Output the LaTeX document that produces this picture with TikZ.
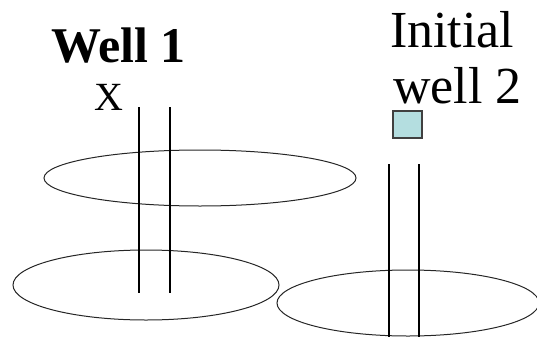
\documentclass[tikz,border=0pt]{standalone}
\usepackage{fontspec}
\setmainfont{Liberation Serif}
\definecolor{sqfill}{RGB}{180,222,224}
\begin{document}
\begin{tikzpicture}[x=1pt,y=-1pt,
  line/.style={line width=1.1pt,black},
  layer/.style={line width=1pt,draw=black!85},
  lbl/.style={inner sep=0pt,anchor=base west,font=\fontsize{52}{52}\selectfont}]
\useasboundingbox (0,0) rectangle (537,337);
% layers (ellipses)
\draw[layer] (200,178) ellipse [x radius=156, y radius=28];
\draw[layer] (146,285) ellipse [x radius=133, y radius=35];
\draw[layer] (408,303) ellipse [x radius=131, y radius=33];
% well 1
\coordinate (w1a) at (139,107); \coordinate (w1b) at (139,293);
\coordinate (w1c) at (170,107); \coordinate (w1d) at (170,293);
\draw[line] (w1a) -- (w1b);
\draw[line] (w1c) -- (w1d);
% well 2
\coordinate (w2a) at (389,164); \coordinate (w2b) at (389,337);
\coordinate (w2c) at (419,164); \coordinate (w2d) at (419,337);
\draw[line] (w2a) -- (w2b);
\draw[line] (w2c) -- (w2d);
% square marker
\draw[fill=sqfill,draw=black!75,line width=1.2pt] (393,111) rectangle (422,138);
% texts
\node[lbl,font=\fontsize{50}{50}\selectfont\bfseries] (t1) at (51,63) {Well 1};
\node[lbl,font=\fontsize{40}{40}\selectfont] (tx) at (94,110) {X};
\node[lbl] (t2) at (390,48) {Initial};
\node[lbl] (t3) at (393,103) {well 2};
\end{tikzpicture}
\end{document}
